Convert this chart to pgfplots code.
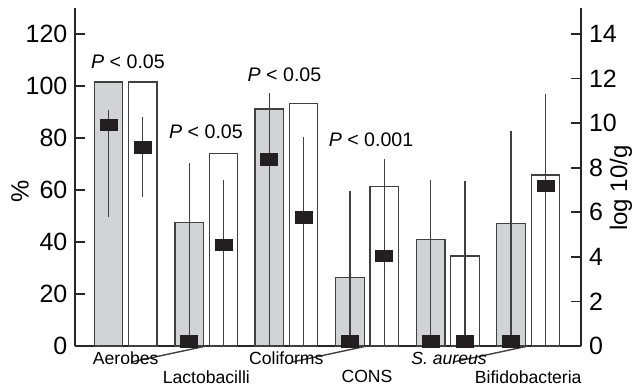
\documentclass[border=0pt]{standalone}
\usepackage{pgfplots}
\pgfplotsset{compat=1.18}
\usepackage{pgfplotstable}
\usepackage{fontspec}
\setmainfont{Liberation Sans}
\definecolor{bargrey}{HTML}{D2D3D5}
\definecolor{edge}{HTML}{404040}
\definecolor{mk}{HTML}{231F20}

% percent (left axis)
\pgfplotstableread{
x pct
108.5 101.5
189.2 47.6
269.2 91.2
350.0 26.4
430.8 41.0
511.0 47.2
}\greybars
\pgfplotstableread{
x pct
142.8 101.5
223.5 74.0
303.5 93.2
384.2 61.3
465.0 34.6
545.5 65.8
}\whitebars
% log10/g (right axis): median, error plus, error minus
\pgfplotstableread{
x med ep em
108.5 9.92 0.67 4.12
189.2 0.22 7.98 0.22
269.2 8.38 2.99 8.38
350.0 0.22 6.74 0.22
430.8 0.22 7.23 0.22
511.0 0.22 9.43 0.22
}\greylog
\pgfplotstableread{
x med ep em
142.8 8.90 1.39 2.23
223.5 4.53 2.92 4.53
303.5 5.76 3.63 5.76
384.2 4.05 4.34 4.05
465.0 0.22 7.18 0.22
545.5 7.18 4.11 7.18
}\whitelog

\begin{document}
\begin{tikzpicture}
\useasboundingbox (-37.5pt,-21pt) rectangle (282.5pt,173pt);
\pgfplotsset{
  common/.style={
    at={(0,0)}, anchor=south west,
    scale only axis, width=253pt, height=169pt,
    xmin=75, xmax=581,
    clip=false,
    axis line style={line width=1pt, black!85},
    tick style={line width=0.9pt, black!85},
    major tick length=5pt,
    tick align=inside,
    ticklabel style={font=\fontsize{12.5}{13}\selectfont},
    /pgf/number format/assume math mode=true,
  }
}
\begin{axis}[common,
  axis y line*=left, axis x line*=bottom,
  ymin=0, ymax=130,
  ytick={0,20,...,120},
  xtick=\empty,
  yticklabel style={xshift=-0.3pt},
  ylabel={\%}, ylabel style={font=\fontsize{12.5}{13}\selectfont, at={(axis description cs:-0.1087,0.456)}, anchor=center},
]
\addplot[ybar, bar width=28.5, bar shift=0pt, fill=bargrey, draw=edge, line width=0.7pt] table[x=x, y=pct] {\greybars};
\addplot[ybar, bar width=28.5, bar shift=0pt, fill=white, draw=edge, line width=0.7pt] table[x=x, y=pct] {\whitebars};
% long ticks for second-row labels
\draw[line width=0.7pt, edge] (axis cs:206.3,0) -- ++(0,-8pt);
\draw[line width=0.7pt, edge] (axis cs:367,0) -- ++(0,-8pt);
\draw[line width=0.7pt, edge] (axis cs:528.2,0) -- ++(0,-8pt);
\begin{scope}[font=\fontsize{8.8}{9}\selectfont]
\node at (axis cs:125.7,0) [yshift=-6pt] {Aerobes};
\node at (axis cs:286.3,0) [yshift=-6pt] {Coliforms};
\node at (axis cs:449,0) [yshift=-6pt] {\itshape S. aureus};
\node at (axis cs:206.3,0) [yshift=-15.4pt] {Lactobacilli};
\node at (axis cs:367,0) [yshift=-15.4pt] {CONS};
\node at (axis cs:528.2,0) [yshift=-15.4pt] {Bifidobacteria};
\end{scope}
\begin{scope}[font=\fontsize{9.8}{10}\selectfont]
\node at (axis cs:128,109.3) {{\itshape P} < 0.05};
\node at (axis cs:206,82.4) {{\itshape P} < 0.05};
\node at (axis cs:284.5,104.2) {{\itshape P} < 0.05};
\node at (axis cs:371,79.5) {{\itshape P} < 0.001};
\end{scope}
\end{axis}
\begin{axis}[common,
  axis y line*=right, axis x line=none,
  ymin=0, ymax=15.1667,
  ytick={0,2,...,14},
  yticklabel style={xshift=0.5pt},
  ylabel={log 10/g}, ylabel style={font=\fontsize{12}{12}\selectfont, at={(axis description cs:1.079,0.467)}, anchor=center},
]
\addplot[only marks, mark=square*, mark size=2.9pt, mark options={xscale=1.47, fill=mk, draw=mk},
  error bars/.cd, y dir=both, y explicit, error mark=none,
  error bar style={line width=0.6pt, edge}]
  table[x=x, y=med, y error plus=ep, y error minus=em] {\greylog};
\addplot[only marks, mark=square*, mark size=2.9pt, mark options={xscale=1.47, fill=mk, draw=mk},
  error bars/.cd, y dir=both, y explicit, error mark=none,
  error bar style={line width=0.6pt, edge}]
  table[x=x, y=med, y error plus=ep, y error minus=em] {\whitelog};
\end{axis}
\end{tikzpicture}
\end{document}
